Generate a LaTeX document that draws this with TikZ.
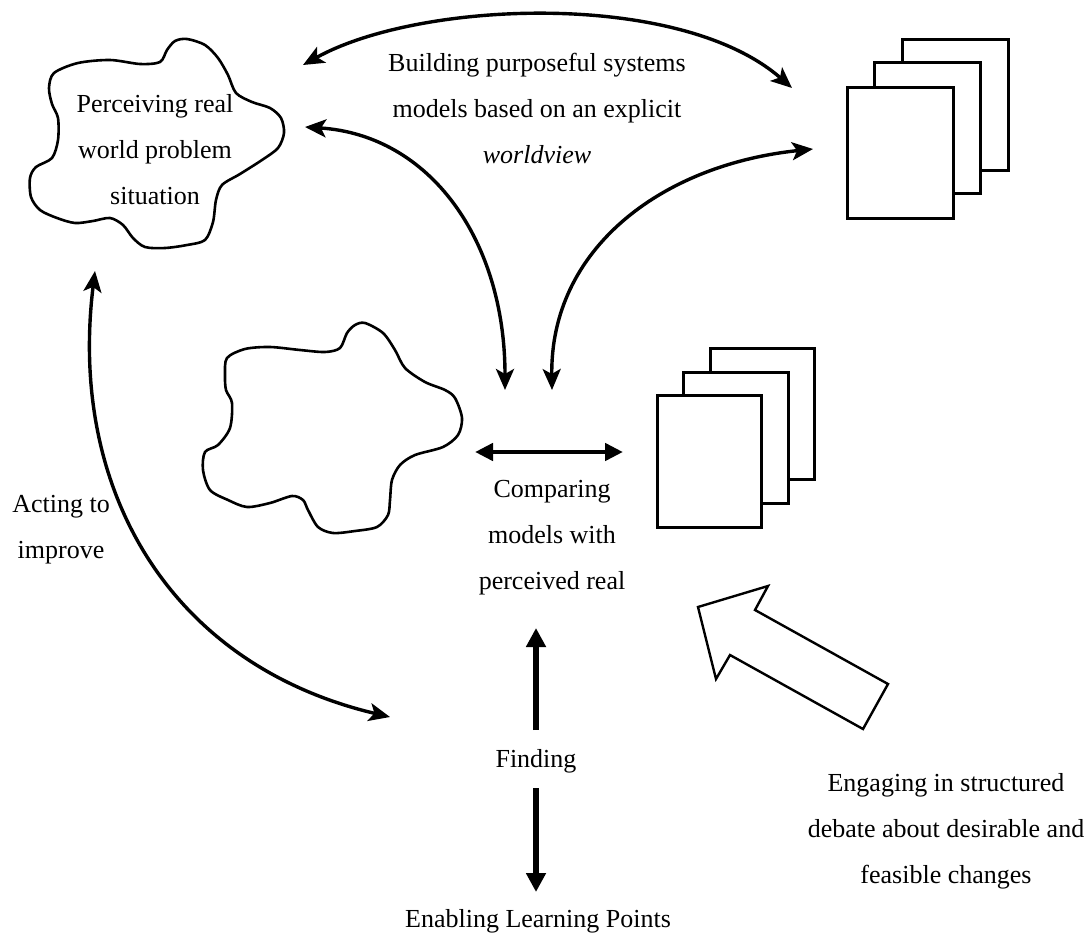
\documentclass[tikz,border=0pt]{standalone}
\usepackage{fontspec}
\setmainfont{Liberation Serif}
\usetikzlibrary{arrows.meta}
\begin{document}
\begin{tikzpicture}[x=1pt,y=-1pt,
  % multi-line labels are placed by the baseline of their last line
  txt/.style={font=\fontsize{26}{46}\selectfont, align=center, inner sep=0pt, anchor=base},
  blob/.style={line width=2.6pt, line join=round},
  sheet/.style={draw, fill=white, line width=2.6pt, inner sep=0pt, anchor=north west},
  tip/.tip={Stealth[length=21pt,width=18pt,inset=5pt]},
  curvelink/.style={line width=3.4pt, tip-tip},
  heavy/.style={line width=6pt, -{Triangle[length=19pt,width=19pt]}},
  compare link/.style={line width=4.5pt,
    {Triangle[length=18pt,width=17pt]}-{Triangle[length=18pt,width=17pt]}},
  bigarrow/.style={line width=2.4pt, line join=miter}
]
\useasboundingbox (0,0) rectangle (1086,939);

% rich picture of the real world situation (upper)
\draw[blob] plot[smooth cycle, tension=0.5] coordinates {
  (187,39) (205,45) (218,58) (228,75) (236,93) (252,102) (270,108) (281,118)
  (284,133) (278,148) (262,160) (240,174) (222,185) (216,200) (213,222) (205,240)
  (187,245) (165,248) (145,247) (133,238) (123,225) (110,218) (93,221) (75,223)
  (57,218) (40,210) (31,197) (30,178) (36,167) (52,158) (58,140) (58,118)
  (52,104) (49,88) (54,73) (78,63) (110,60) (140,64) (160,62) (167,50) (175,41)};
\node[txt] (perceive) at (155,204) {Perceiving real\\world problem\\situation};

% stack of models (upper)
\node[sheet, minimum width=106pt, minimum height=131pt] (mA3) at (901,38) {};
\node[sheet, minimum width=106pt, minimum height=131pt] (mA2) at (873,61) {};
\node[sheet, minimum width=106pt, minimum height=131pt] (mA1) at (846,86) {};

% perceived situation (lower)
\draw[blob] plot[smooth cycle, tension=0.5] coordinates {
  (365,323) (383,333) (395,350) (405,368) (425,382) (445,390) (455,398) (462,418)
  (458,435) (443,447) (415,455) (400,465) (392,480) (390,500) (388,515) (377,527)
  (355,531) (333,533) (318,527) (308,510) (303,500) (292,496) (270,503) (247,507)
  (228,500) (210,490) (203,470) (205,452) (218,445) (230,428) (232,403) (226,390)
  (225,375) (227,358) (245,349) (270,347) (300,350) (325,352) (340,348) (347,333)
  (355,325)};

% stack of models (lower)
\node[sheet, minimum width=104pt, minimum height=131pt] (mB3) at (709,347) {};
\node[sheet, minimum width=105pt, minimum height=131pt] (mB2) at (682,371) {};
\node[sheet, minimum width=104pt, minimum height=132pt] (mB1) at (656,394) {};

% texts
\node[txt] (build) at (537,163) {Building purposeful systems\\models based on an explicit\\\textit{worldview}};
\node[txt] (compare) at (552,589) {Comparing\\models with\\perceived real};
\node[txt] (act) at (61,558) {Acting to\\improve};
\node[txt] (find) at (536,767) {Finding};
\node[txt] (enable) at (538,927) {Enabling Learning Points};
\node[txt] (engage) at (946,883) {Engaging in structured\\debate about desirable and\\feasible changes};

% arrow end points
\coordinate (c1a) at (303,65);
\coordinate (c1b) at (792,88);
\coordinate (c2a) at (305,127);
\coordinate (c2b) at (505,390);
\coordinate (c3a) at (813,149);
\coordinate (c3b) at (552,390);
\coordinate (c4a) at (475,452);
\coordinate (c4b) at (623,452);
\coordinate (c5a) at (95,271);
\coordinate (c5b) at (390,717);
\coordinate (f1a) at (536,730);
\coordinate (f1b) at (536,628);
\coordinate (f2a) at (536,788);
\coordinate (f2b) at (536,892);

% connectors
\draw[curvelink] (c1a) .. controls (420,0) and (680,-10) .. (c1b);
\draw[curvelink] (c2a) .. controls (430,135) and (505,240) .. (c2b);
\draw[curvelink] (c3a) .. controls (660,165) and (550,250) .. (c3b);
\draw[compare link] (c4a) -- (c4b);
\draw[curvelink] (c5a) .. controls (68,490) and (170,665) .. (c5b);
\draw[heavy] (f1a) -- (f1b);
\draw[heavy] (f2a) -- (f2b);

% hollow arrow for the structured debate
\draw[bigarrow] (698,607) -- (768,586) -- (755,610) -- (888,684) -- (863,729)
  -- (730,655) -- (716,679) -- cycle;
\end{tikzpicture}
\end{document}
